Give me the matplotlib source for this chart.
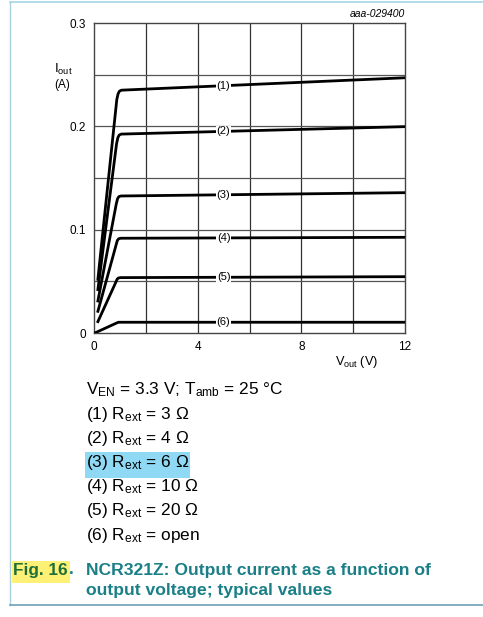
import matplotlib
matplotlib.use("Agg")
import matplotlib.pyplot as plt
from matplotlib.patches import Rectangle
from matplotlib.lines import Line2D
import numpy as np

plt.rcParams['font.family'] = ['Liberation Sans', 'DejaVu Sans']
plt.rcParams['mathtext.fontset'] = 'custom'
plt.rcParams['mathtext.rm'] = 'Liberation Sans'
plt.rcParams['mathtext.it'] = 'Liberation Sans:italic'

# ------------------------------------------------------------
# DATA
# ------------------------------------------------------------
curve_names = ['(1)', '(2)', '(3)', '(4)', '(5)', '(6)']
vout = [
    [0.15, 0.88, 0.93, 0.98, 1.06, 12.0],
    [0.15, 0.87, 0.92, 0.97, 1.05, 12.0],
    [0.15, 0.86, 0.91, 0.96, 1.04, 12.0],
    [0.15, 0.85, 0.90, 0.95, 1.03, 12.0],
    [0.15, 0.84, 0.89, 0.94, 1.02, 12.0],
    [0.03, 0.90, 0.95, 12.0],
]
iout = [
    [0.052, 0.226, 0.2315, 0.234, 0.235, 0.247],
    [0.042, 0.183, 0.189, 0.1915, 0.1925, 0.1997],
    [0.031, 0.125, 0.1300, 0.1320, 0.1326, 0.1358],
    [0.021, 0.085, 0.0895, 0.0912, 0.0917, 0.0926],
    [0.011, 0.049, 0.0520, 0.0532, 0.0536, 0.0545],
    [0.000, 0.0100, 0.0104, 0.0104],
]
label_v = 5.0

xticks = [0, 4, 8, 12]
yticks = [0, 0.1, 0.2, 0.3]
ytick_labels = ['0', '0.1', '0.2', '0.3']

conditions = [
    r'$\mathregular{V_{EN}}$ = 3.3 V; $\mathregular{T_{amb}}$ = 25 °C',
    r'(1) $\mathregular{R_{ext}}$ = 3 Ω',
    r'(2) $\mathregular{R_{ext}}$ = 4 Ω',
    r'(3) $\mathregular{R_{ext}}$ = 6 Ω',
    r'(4) $\mathregular{R_{ext}}$ = 10 Ω',
    r'(5) $\mathregular{R_{ext}}$ = 20 Ω',
    r'(6) $\mathregular{R_{ext}}$ = open',
]

W, H = 483, 617
fig = plt.figure(figsize=(W / 100, H / 100), dpi=100)

def fx(px):
    return px / W

def fy(py):
    return 1 - py / H

# ------------------------------------------------------------
# PLOT
# ------------------------------------------------------------
ax = fig.add_axes([fx(94), fy(333), fx(405) - fx(94), fy(23) - fy(333)])
ax.set_xlim(0, 12)
ax.set_ylim(0, 0.3)

for v in np.arange(2, 12, 2):
    ax.axvline(v, color='#333333', lw=0.9, zorder=1)
for i in np.arange(0.05, 0.3, 0.05):
    ax.axhline(i, color='#555555', lw=0.9, zorder=1)

for name, v, i in zip(curve_names, vout, iout):
    ax.plot(v, i, color='black', lw=2.0, solid_joinstyle='round', zorder=3)
    ax.text(label_v, np.interp(label_v, v, i), name, fontsize=8, ha='center', va='center',
            bbox=dict(facecolor='white', edgecolor='none', pad=0.6), zorder=4)

ax.set_xticks(xticks)
ax.set_xticklabels([str(t) for t in xticks], fontsize=8.5)
ax.set_yticks(yticks)
ax.set_yticklabels(ytick_labels, fontsize=8.5)
ax.tick_params(length=0, pad=6)
for s in ax.spines.values():
    s.set_color('#444444')
    s.set_linewidth(1.0)

fig.text(fx(54), fy(69), r'$\mathregular{I_{out}}$', fontsize=9.5, ha='left', va='center')
fig.text(fx(54), fy(85), '(A)', fontsize=8.5, ha='left', va='center')
fig.text(fx(378), fy(362), r'$\mathregular{V_{out}}$ (V)', fontsize=9.2, ha='right', va='center')
fig.text(fx(405), fy(14), 'aaa-029400', fontsize=7.5, style='italic', ha='right', va='center')

# ------------------------------------------------------------
# CAPTION
# ------------------------------------------------------------
fig.patches.append(Rectangle((fx(85), fy(478)), fx(190) - fx(85), fy(452) - fy(478),
                             transform=fig.transFigure, facecolor='#8fd9f5', edgecolor='none'))
for k, line in enumerate(conditions):
    fig.text(fx(86), fy(390 + 24.2 * k), line, fontsize=12.4, ha='left', va='center')

fig.patches.append(Rectangle((fx(12), fy(583)), fx(70) - fx(12), fy(561) - fy(583),
                             transform=fig.transFigure, facecolor='#fff176', edgecolor='none'))
fig.text(fx(13), fy(570), 'Fig. 16', fontsize=12.4, weight='bold', color='#1f6f3a', ha='left', va='center')
fig.text(fx(69), fy(570), '.', fontsize=12.4, weight='bold', color='#1a7f86', ha='left', va='center')
fig.text(fx(86), fy(570), 'NCR321Z: Output current as a function of', fontsize=12.6, weight='bold',
         color='#1a7f86', ha='left', va='center')
fig.text(fx(86), fy(591), 'output voltage; typical values', fontsize=12.6, weight='bold',
         color='#1a7f86', ha='left', va='center')

# frame lines of the page
fig.lines.append(Line2D([fx(10), 1], [fy(2), fy(2)], transform=fig.transFigure, color='#a9d6e5', lw=1.2))
fig.lines.append(Line2D([fx(10), fx(10)], [fy(2), fy(605)], transform=fig.transFigure, color='#a9cfdc', lw=1.0))
fig.lines.append(Line2D([fx(10), 1], [fy(605), fy(605)], transform=fig.transFigure, color='#6e9fb3', lw=1.2))

fig.savefig('out.png', dpi=100)
